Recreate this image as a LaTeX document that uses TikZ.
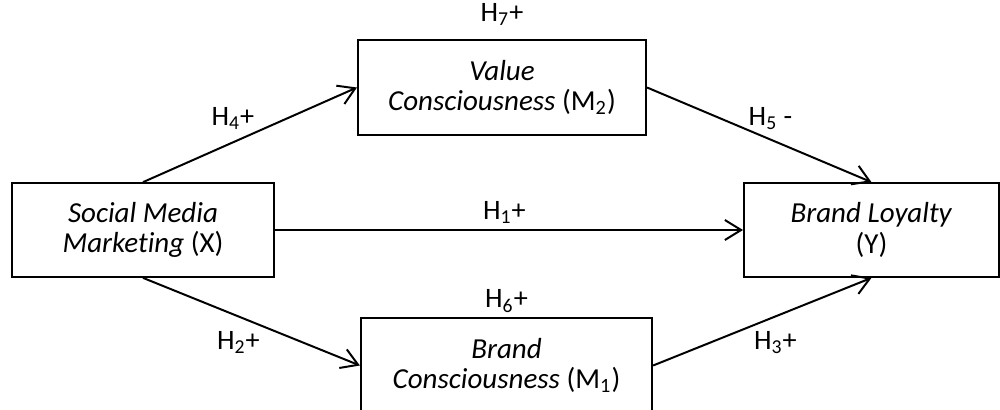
\documentclass[tikz,border=0pt]{standalone}
\usepackage{fontspec}
\setmainfont[Ligatures=NoCommon]{Carlito}
\usepackage{tikz}
\usetikzlibrary{arrows.meta, positioning}
\tikzstyle{construct} = [rectangle, draw=black, line width=0.9pt, minimum height=1.5cm, align=center, inner sep=2pt, font=\fontsize{13.2}{13.9}\selectfont]
\tikzstyle{link} = [-{Straight Barb[length=2.6mm, width=3.2mm]}, line width=0.9pt]
\tikzstyle{hyp} = [inner sep=1pt, font=\fontsize{12.8}{14}\selectfont]

\begin{document}
\begin{tikzpicture}
		\useasboundingbox (0,0) rectangle (16,-6.544);
		\node (SMM)[construct, minimum width=4.19cm] at (2.288,-3.68) {\textit{Social Media}\\\textit{Marketing} (X)};
		\node (Value)[construct, minimum width=4.61cm, minimum height=1.52cm] at (8.032,-1.4) {\textit{Value}\\\textit{Consciousness} (M\textsubscript{2})};
		\node (Loyalty)[construct, minimum width=4.08cm] at (13.944,-3.68) {\textit{Brand Loyalty}\\(Y)};
		\node (Brand)[construct, minimum width=4.66cm, minimum height=1.52cm] at (8.104,-5.848) {\textit{Brand}\\\textit{Consciousness} (M\textsubscript{1})};
		\node (H7)[hyp, above=5pt of Value]{H\textsubscript{7}+};
		\node (H6)[hyp, above=1pt of Brand]{H\textsubscript{6}+};
		\draw [link] (SMM) -- (Loyalty) node[hyp, pos=0.49, above=1.5pt] (H1) {H\textsubscript{1}+};
		\draw [link] (SMM.north) -- (Value.west) node[hyp, pos=0.42, above=4.5pt] (H4) {H\textsubscript{4}+};
		\draw [link] (Value.east) -- (Loyalty.north) node[hyp, pos=0.55, above=3.2pt] (H5) {H\textsubscript{5} -};
		\draw [link] (SMM.south) -- (Brand.west) node[hyp, pos=0.44, below=5.2pt] (H2) {H\textsubscript{2}+};
		\draw [link] (Brand.east) -- (Loyalty.south) node[hyp, pos=0.56, below=5.2pt] (H3) {H\textsubscript{3}+};
	\end{tikzpicture}
\end{document}
